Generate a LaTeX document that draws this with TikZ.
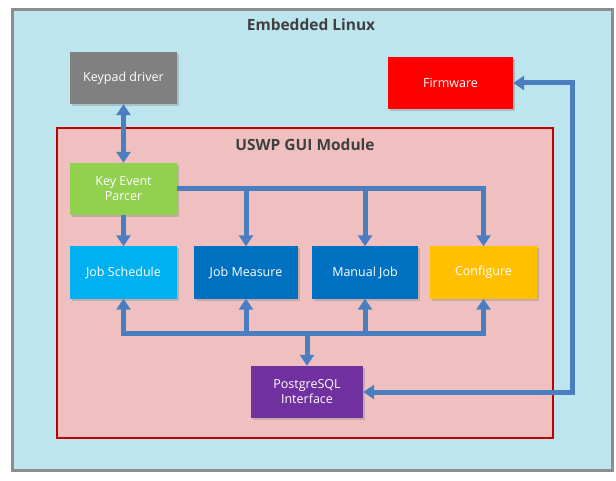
\documentclass[tikz,border=0pt]{standalone}
\usepackage{fontspec}
\setmainfont{Open Sans}
\usetikzlibrary{arrows.meta,shadows}
\definecolor{linuxbg}{RGB}{189,229,238}
\definecolor{modbg}{RGB}{240,192,192}
\definecolor{modred}{RGB}{192,0,0}
\definecolor{titlegray}{RGB}{64,64,64}
\definecolor{keypadgray}{RGB}{128,128,128}
\definecolor{fwred}{RGB}{255,0,0}
\definecolor{keygreen}{RGB}{146,208,80}
\definecolor{schedblue}{RGB}{0,176,240}
\definecolor{darkblue}{RGB}{0,112,192}
\definecolor{cfgyellow}{RGB}{255,192,0}
\definecolor{pgpurple}{RGB}{112,48,160}
\definecolor{linkblue}{RGB}{74,126,193}
\tikzset{
	box/.style={fill=#1, minimum width=107pt, minimum height=52pt, align=center,
		text=white, font=\fontsize{12.5}{15}\selectfont,
		drop shadow={shadow xshift=2pt, shadow yshift=-2pt, opacity=0.35}},
	link/.style={draw=linkblue, line width=5pt,
		arrows={-}, >={Triangle[width=14pt,length=11pt]}},
	heading/.style={text=titlegray, font=\fontsize{15.5}{18}\selectfont\bfseries}
}
\begin{document}
\begin{tikzpicture}[x=1pt,y=-1pt]
		%%%%% START %%%%%
		\useasboundingbox (0,0) rectangle (616,481);
		
		\draw[draw=keypadgray!90, line width=3pt, fill=linuxbg] (12, 10) rectangle (612, 470);
		\node[heading] (linux) at (311, 25) {Embedded Linux};
		
		\draw[draw=modred, line width=2pt, fill=modbg] (57, 128) rectangle (553, 438);
		\node[heading] (gui) at (305, 145) {USWP GUI Module};
		
		\node[box=keypadgray] (keypad) at (123.5, 78) {Keypad driver};
		\node[box=fwred, minimum width=125pt] (fw) at (450.5, 83) {Firmware};
		
		\node[box=keygreen] (parser) at (123.5, 189) {Key Event\\Parcer};
		\node[box=schedblue] (sched) at (123.5, 272.5) {Job Schedule};
		\node[box=darkblue, minimum width=104pt] (measure) at (246, 272.5) {Job Measure};
		\node[box=darkblue, minimum width=106pt] (manual) at (365, 272.5) {Manual Job};
		\node[box=cfgyellow] (config) at (483.5, 272.5) {Configure};
		\node[box=pgpurple, minimum width=112pt] (pg) at (307, 392) {PostgreSQL\\Interface};
		
		\coordinate (lowbus) at (307, 333);
		\coordinate (rside) at (572, 83);
		
		%%%%% LINKS %%%%%
		\draw[link, <->] (keypad) -- (parser);
		\draw[link, ->] (parser) -- (sched);
		\draw[link, ->] (parser.east) -| (config.north);
		\draw[link, ->] (parser.east -| measure.north) -- (measure.north);
		\draw[link, ->] (parser.east -| manual.north) -- (manual.north);
		
		\draw[link, <->] (sched.south) -- (sched.south |- lowbus) -- (config.south |- lowbus) -- (config.south);
		\draw[link, ->] (measure.south |- lowbus) -- (measure.south);
		\draw[link, ->] (manual.south |- lowbus) -- (manual.south);
		\draw[link, ->] (lowbus) -- (pg.north);
		
		\draw[link, <->] (pg.east) -- (pg.east -| rside) |- (fw.east);
		%%%%% END %%%%%
	\end{tikzpicture}
\end{document}
